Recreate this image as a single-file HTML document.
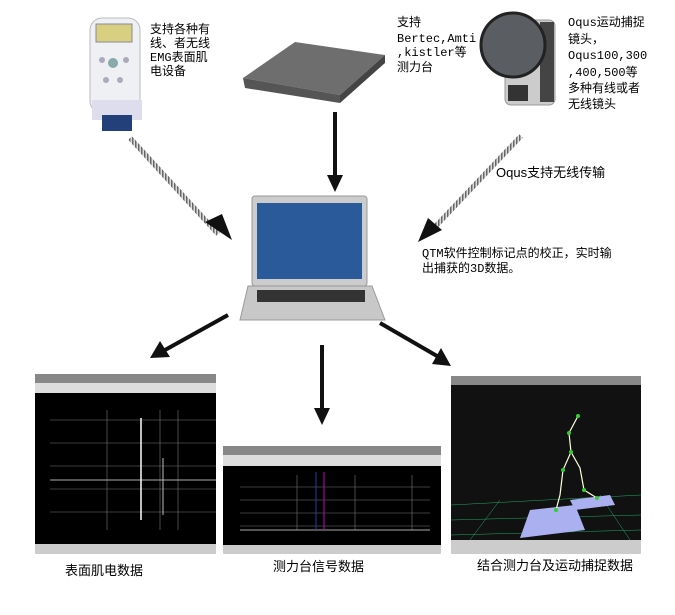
<!DOCTYPE html>
<html><head><meta charset="utf-8"><style>
body{margin:0;background:#fff;}
svg{display:block}
text{font-family:"Liberation Mono","WenQuanYi Zen Hei",monospace;font-size:12px;fill:#000}
.c{font-family:"Liberation Sans","WenQuanYi Zen Hei",sans-serif;font-size:13px}
</style></head><body>
<svg width="675" height="615" viewBox="0 0 675 615">
<defs>
<pattern id="dash" width="3" height="3" patternUnits="userSpaceOnUse"><rect width="3" height="3" fill="#ddd"/><rect width="1.5" height="3" fill="#666"/></pattern>
</defs>
<rect x="90" y="18" width="50" height="95" rx="12" fill="#eef0f4" stroke="#bbb"/>
<rect x="96" y="24" width="36" height="18" fill="#d8d080" stroke="#889"/>
<circle cx="113" cy="63" r="5" fill="#8aa"/><circle cx="102" cy="60" r="3" fill="#aab"/><circle cx="126" cy="60" r="3" fill="#aab"/>
<circle cx="106" cy="80" r="3" fill="#aab"/><circle cx="120" cy="80" r="3" fill="#aab"/>
<rect x="92" y="100" width="50" height="20" fill="#dde" />
<rect x="102" y="115" width="30" height="16" fill="#23407a"/>
<text x="150" y="33">支持各种有</text><text x="150" y="47">线、者无线</text><text x="150" y="61">EMG表面肌</text><text x="150" y="75">电设备</text>
<polygon points="243,78 295,42 385,55 340,95" fill="#6e6e6e"/>
<polygon points="243,78 340,95 340,103 245,88" fill="#555"/>
<polygon points="340,95 385,55 385,63 340,103" fill="#444"/>
<text x="397" y="26">支持</text><text x="397" y="42">Bertec,Amti</text><text x="397" y="56">,kistler等</text><text x="397" y="71">测力台</text>
<rect x="505" y="20" width="50" height="85" rx="6" fill="#ccc" stroke="#999"/>
<rect x="540" y="22" width="14" height="80" fill="#444"/>
<circle cx="513" cy="45" r="32" fill="#5a5e62" stroke="#222" stroke-width="3"/>
<rect x="508" y="85" width="20" height="16" fill="#333"/>
<text x="568" y="26">Oqus运动捕捉</text><text x="568" y="43">镜头，</text><text x="568" y="59">Oqus100,300</text><text x="568" y="76">,400,500等</text><text x="568" y="92">多种有线或者</text><text x="568" y="108">无线镜头</text>
<line x1="130" y1="178" x2="218" y2="274" stroke="url(#dash)" stroke-width="5" transform="translate(0,-40)"/>
<polygon points="205,222 232,240 222,214" fill="#111"/>
<line x1="335" y1="112" x2="335" y2="175" stroke="#111" stroke-width="4"/>
<polygon points="327,175 343,175 335,192" fill="#111"/>
<line x1="521" y1="176" x2="432" y2="270" stroke="url(#dash)" stroke-width="5" transform="translate(0,-40)"/>
<polygon points="418,242 428,218 442,230" fill="#111"/>
<text x="496" y="177" class="c">Oqus支持无线传输</text>
<text x="422" y="257">QTM软件控制标记点的校正，实时输</text>
<text x="422" y="272">出捕获的3D数据。</text>
<rect x="252" y="196" width="115" height="90" rx="3" fill="#ccc" stroke="#999"/>
<rect x="257" y="203" width="105" height="76" fill="#2a5a9a"/>
<polygon points="248,286 372,286 385,320 240,320" fill="#c8c8c8" stroke="#999"/>
<rect x="257" y="290" width="108" height="12" fill="#333"/>
<line x1="228" y1="315" x2="165" y2="350" stroke="#111" stroke-width="4"/>
<polygon points="150,358 160,341 170,357" fill="#111"/>
<line x1="322" y1="345" x2="322" y2="410" stroke="#111" stroke-width="4"/>
<polygon points="314,408 330,408 322,425" fill="#111"/>
<line x1="380" y1="323" x2="437" y2="356" stroke="#111" stroke-width="4"/>
<polygon points="451,366 432,364 441,348" fill="#111"/>
<rect x="35" y="374" width="181" height="180" fill="#000"/>
<rect x="35" y="374" width="181" height="9" fill="#888"/>
<rect x="35" y="383" width="181" height="10" fill="#ddd"/>
<rect x="35" y="544" width="181" height="10" fill="#ccc"/>
<g stroke="#777" stroke-width="0.6">
<line x1="50" y1="420" x2="216" y2="420"/><line x1="50" y1="443" x2="216" y2="443"/><line x1="50" y1="466" x2="216" y2="466"/><line x1="50" y1="489" x2="216" y2="489"/><line x1="50" y1="512" x2="216" y2="512"/>
<line x1="107" y1="410" x2="107" y2="530"/><line x1="160" y1="410" x2="160" y2="530"/><line x1="178" y1="410" x2="178" y2="530"/>
</g>
<line x1="50" y1="480" x2="216" y2="480" stroke="#aaa" stroke-width="1"/>
<line x1="141" y1="418" x2="141" y2="520" stroke="#fff" stroke-width="1.5"/>
<line x1="163" y1="458" x2="163" y2="515" stroke="#bbb" stroke-width="1"/>
<rect x="223" y="446" width="218" height="108" fill="#000"/>
<rect x="223" y="446" width="218" height="9" fill="#888"/>
<rect x="223" y="455" width="218" height="11" fill="#ddd"/>
<rect x="223" y="545" width="218" height="9" fill="#ccc"/>
<g stroke="#777" stroke-width="0.6"><line x1="240" y1="487" x2="430" y2="487"/><line x1="240" y1="500" x2="430" y2="500"/><line x1="240" y1="513" x2="430" y2="513"/><line x1="240" y1="526" x2="430" y2="526"/><line x1="297" y1="475" x2="297" y2="530"/><line x1="355" y1="475" x2="355" y2="530"/><line x1="412" y1="475" x2="412" y2="530"/></g>
<line x1="240" y1="530" x2="430" y2="530" stroke="#aaa" stroke-width="1"/>
<line x1="324" y1="472" x2="324" y2="530" stroke="#c0c" stroke-width="1"/>
<line x1="316" y1="472" x2="316" y2="530" stroke="#33a" stroke-width="1"/>
<rect x="451" y="376" width="190" height="178" fill="#111"/>
<rect x="451" y="376" width="190" height="9" fill="#888"/>
<rect x="451" y="540" width="190" height="14" fill="#ccc"/>
<g stroke="#2a6" stroke-width="0.5"><line x1="451" y1="505" x2="641" y2="495"/><line x1="451" y1="520" x2="641" y2="515"/><line x1="451" y1="535" x2="641" y2="530"/><line x1="500" y1="500" x2="470" y2="540"/><line x1="600" y1="495" x2="630" y2="540"/></g>
<polygon points="530,510 575,505 585,530 520,538" fill="#aab0f0"/>
<polygon points="570,500 610,495 615,505 575,510" fill="#aab0f0"/>
<polyline points="578,416 569,433 571,452 563,470 560,495 556,510" stroke="#ffd" stroke-width="1.2" fill="none"/>
<polyline points="571,452 580,468 584,490 597,498" stroke="#ffd" stroke-width="1.2" fill="none"/>
<g fill="#3c3"><circle cx="578" cy="416" r="2"/><circle cx="569" cy="433" r="2"/><circle cx="571" cy="452" r="2"/><circle cx="563" cy="470" r="2"/><circle cx="556" cy="510" r="2"/><circle cx="597" cy="498" r="2"/><circle cx="584" cy="490" r="2"/></g>
<text x="65" y="575" class="c">表面肌电数据</text>
<text x="273" y="571" class="c">测力台信号数据</text>
<text x="477" y="570" class="c">结合测力台及运动捕捉数据</text>
</svg>
</body></html>
